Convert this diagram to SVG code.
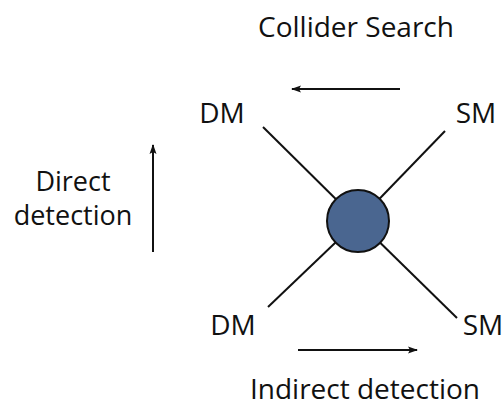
<svg xmlns="http://www.w3.org/2000/svg" width="503" height="406" viewBox="0 0 503 406">
<style>
text{font-family:"Open Sans","DejaVu Sans",sans-serif;font-size:28px;fill:#111}
.side{font-size:27px}
.ln{stroke:#111;stroke-width:2;fill:none}
</style>
<defs>
<marker id="ah" markerWidth="10" markerHeight="8" refX="9" refY="4" orient="auto" markerUnits="userSpaceOnUse">
<path d="M0,0.5 L10,4 L0,7.5 L2,4 Z" fill="#111"/>
</marker>
</defs>
<rect width="503" height="406" fill="#fff"/>
<g id="connectors">
<line class="ln" x1="263" y1="127" x2="358" y2="221"/>
<line class="ln" x1="445" y1="131" x2="358" y2="221"/>
<line class="ln" x1="268" y1="307" x2="358" y2="221"/>
<line class="ln" x1="457" y1="318" x2="358" y2="221"/>
<line class="ln" x1="400" y1="89" x2="292" y2="89" marker-end="url(#ah)"/>
<line class="ln" x1="153" y1="252" x2="153" y2="145" marker-end="url(#ah)"/>
<line class="ln" x1="298" y1="350" x2="417" y2="350" marker-end="url(#ah)"/>
</g>
<g id="vertex"><circle cx="358" cy="221" r="31" fill="#4a6690" stroke="#111" stroke-width="2"/></g>
<g id="dm-top"><text x="222" y="123" text-anchor="middle">DM</text></g>
<g id="sm-top"><text x="476" y="123" text-anchor="middle">SM</text></g>
<g id="dm-bottom"><text x="233" y="335" text-anchor="middle">DM</text></g>
<g id="sm-bottom"><text x="483" y="335" text-anchor="middle">SM</text></g>
<g id="collider"><text x="356" y="37" text-anchor="middle">Collider Search</text></g>
<g id="direct"><text class="side" text-anchor="middle"><tspan x="73" y="191">Direct</tspan><tspan x="73" y="225">detection</tspan></text></g>
<g id="indirect"><text x="365" y="399" text-anchor="middle">Indirect detection</text></g>
</svg>
